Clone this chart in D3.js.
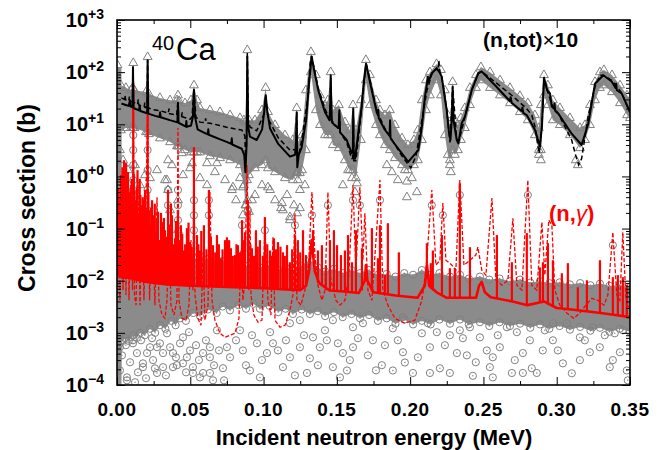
<!DOCTYPE html>
<html><head><meta charset="utf-8">
<script src="https://cdn.jsdelivr.net/npm/d3@7"></script>
<style>body{margin:0;background:#fff}svg{display:block;font-family:"Liberation Sans",Arial,Helvetica,sans-serif}</style>
</head><body>
<svg id="c" width="667" height="450"></svg>
<script>
// ---------- tick labels ----------
const xTicks = [0, 0.05, 0.10, 0.15, 0.20, 0.25, 0.30, 0.35];
const xTickLabels = ["0.00","0.05","0.10","0.15","0.20","0.25","0.30","0.35"];
const xMinor = [0.025, 0.075, 0.125, 0.175, 0.225, 0.275, 0.325];
const yTicks = [1e3, 1e2, 1e1, 1e0, 1e-1, 1e-2, 1e-3, 1e-4];
const yTickExp = ["+3","+2","+1","+0","\u22121","\u22122","\u22123","\u22124"];

// ---------- (n,tot)x10 : evaluations (black) ----------
const totSolid = [[0.0030,25],[0.0060,23.5],[0.0080,22.5],[0.0088,29],[0.0092,22],[0.0106,21],[0.0109,125],[0.0113,20.5],[0.0150,18.5],[0.0155,23],[0.0159,18],[0.0200,16.5],[0.0206,17],[0.0209,170],[0.0213,16],[0.0260,14.5],[0.0290,13.8],[0.0294,17],[0.0298,13.6],[0.0360,12],[0.0407,11],[0.0412,11],[0.0416,25],[0.0420,10.7],[0.0470,9],[0.0473,11.5],[0.0476,8.9],[0.0505,9.5],[0.0518,14],[0.0525,46],[0.0532,14],[0.0550,8],[0.0600,6.8],[0.0620,6.4],[0.0623,8],[0.0626,6.3],[0.0700,5.2],[0.0748,4.6],[0.0780,4.2],[0.0783,5.4],[0.0786,4.1],[0.0851,3.4],[0.0868,2.6],[0.0876,1.2],[0.0884,4],[0.0889,200],[0.0895,9],[0.0907,5.8],[0.0953,5.0],[0.0990,8],[0.1005,18],[0.1015,36],[0.1025,18],[0.1044,8.3],[0.1100,4.2],[0.1180,2.4],[0.1215,2.6],[0.1222,5],[0.1226,17],[0.1230,1.5],[0.1240,2.6],[0.1260,3.6],[0.1290,12],[0.1310,60],[0.1328,200],[0.1345,110],[0.1373,45],[0.1419,17],[0.1450,12],[0.1455,25],[0.1458,87],[0.1462,25],[0.1466,11],[0.1487,9.5],[0.1512,8.5],[0.1517,18.6],[0.1522,7],[0.1567,5],[0.1601,2.8],[0.1609,3.2],[0.1612,20],[0.1615,2.4],[0.1624,2.2],[0.1640,5],[0.1669,22],[0.1685,70],[0.1699,145],[0.1715,90],[0.1738,45],[0.1772,17],[0.1780,15],[0.1782,19],[0.1786,13],[0.1828,7.8],[0.1860,6],[0.1863,12],[0.1866,5.5],[0.1874,5],[0.1942,2.8],[0.1987,1.9],[0.2056,3.2],[0.2080,9],[0.2101,34],[0.2115,60],[0.2120,82],[0.2125,65],[0.2147,95],[0.2181,117],[0.2200,100],[0.2215,82],[0.2249,19],[0.2265,7],[0.2275,5],[0.2284,12],[0.2290,52],[0.2296,12],[0.2318,5],[0.2329,4.3],[0.2352,10.5],[0.2374,14],[0.2420,45],[0.2465,95],[0.2488,103],[0.2579,56],[0.2680,28],[0.2686,33],[0.2692,26],[0.2760,18],[0.2766,21],[0.2772,16.5],[0.2795,15],[0.2852,7.8],[0.2886,3.7],[0.2900,10],[0.2913,76],[0.2935,45],[0.2954,39],[0.2966,22],[0.2980,20],[0.2985,25],[0.2990,18],[0.3011,16],[0.3102,6.6],[0.3170,4.0],[0.3216,10.5],[0.3261,60],[0.3318,87],[0.3375,66],[0.3400,50],[0.3405,60],[0.3410,45],[0.3443,39],[0.3500,17]];

const totDashed = [[0.0030,32],[0.0050,30],[0.0055,36],[0.0058,29.5],[0.0080,28],[0.0085,34],[0.0088,27.5],[0.0106,27],[0.0109,130],[0.0112,26.5],[0.0140,24],[0.0145,30],[0.0148,23.5],[0.0185,21.5],[0.0190,26],[0.0193,21],[0.0205,21],[0.0209,170],[0.0213,20.5],[0.0250,19],[0.0300,18],[0.0350,16.5],[0.0355,20],[0.0358,16],[0.0407,15],[0.0416,28],[0.0420,14.5],[0.0440,14],[0.0445,17],[0.0448,13.8],[0.0500,12.5],[0.0512,14],[0.0525,46],[0.0538,14],[0.0566,11],[0.0600,10.8],[0.0605,13],[0.0608,10.7],[0.0635,10.5],[0.0700,9.5],[0.0748,8.8],[0.0800,8.2],[0.0851,7.8],[0.0872,6],[0.0878,2],[0.0884,5],[0.0889,240],[0.0895,12],[0.0907,8.9],[0.0953,7.5],[0.1000,15],[0.1015,36],[0.1030,13],[0.1100,5.5],[0.1180,3.2],[0.1220,3.3],[0.1226,17],[0.1232,2],[0.1260,5],[0.1300,30],[0.1318,150],[0.1328,200],[0.1345,120],[0.1373,50],[0.1419,20],[0.1452,12],[0.1458,80],[0.1464,12],[0.1487,10],[0.1512,8],[0.1517,17],[0.1522,7],[0.1567,4.5],[0.1601,2.2],[0.1608,2.2],[0.1612,18],[0.1616,2],[0.1630,2],[0.1669,20],[0.1699,150],[0.1738,50],[0.1772,18],[0.1828,8.3],[0.1874,5.2],[0.1942,2.5],[0.2005,1.45],[0.2040,2.5],[0.2080,12],[0.2115,45],[0.2150,95],[0.2181,120],[0.2190,110],[0.2196,170],[0.2202,100],[0.2215,85],[0.2249,20],[0.2272,4.5],[0.2290,55],[0.2318,5],[0.2335,5],[0.2374,14],[0.2420,45],[0.2465,95],[0.2488,103],[0.2579,65],[0.2693,36],[0.2795,20],[0.2830,15],[0.2852,9],[0.2880,2.75],[0.2900,10],[0.2913,80],[0.2935,45],[0.2966,24],[0.3011,16],[0.3102,5],[0.3130,2.5],[0.3150,1.66],[0.3170,2.2],[0.3216,15],[0.3261,52],[0.3295,87],[0.3318,87],[0.3375,70],[0.3443,40],[0.3500,17]];

// ---------- (n,tot)x10 : measurements (gray triangles) [E, low, high] dense band ----------
const totBand = [[0.0003,2.05,137],[0.0027,7.7,56],[0.0061,8.5,50],[0.0095,8.5,45],[0.0106,8.5,50],[0.0111,8.5,150],[0.0119,8.5,45],[0.0198,7.1,41.5],[0.0209,7.1,195],[0.0218,6.5,38],[0.0293,5.4,32],[0.0362,4.55,29],[0.0409,3.8,29],[0.0416,3.8,36],[0.0423,3.8,28],[0.0464,3.2,25.5],[0.0505,2.9,29],[0.0525,2.9,56],[0.0546,2.9,29],[0.0566,2.9,20.5],[0.0634,2.45,18.7],[0.0703,2.25,17.2],[0.0771,2.05,15],[0.0839,1.65,13.2],[0.0866,0.68,12],[0.0876,0.28,11],[0.0889,0.35,265],[0.0900,1.06,12],[0.0941,1.44,12],[0.0989,1.65,18.7],[0.1014,2.05,50],[0.1030,1.44,17.2],[0.1078,1.21,9.7],[0.1146,0.93,6.2],[0.1200,0.85,5.0],[0.1226,1.21,20.5],[0.1234,0.85,4.55],[0.1262,1.32,6.2],[0.1289,3.2,45],[0.1323,100,243],[0.1357,18.7,88],[0.1385,9.7,36],[0.1419,6.2,23.4],[0.1439,6.2,29],[0.1458,6.2,100],[0.1473,4.0,18.7],[0.1514,3.5,23.4],[0.1555,2.05,11],[0.1589,1.32,7.7],[0.1610,1.32,23.4],[0.1630,0.93,7.7],[0.1664,5.0,29],[0.1698,70,171],[0.1726,23.4,88],[0.1767,9.7,29],[0.1794,6.2,18.7],[0.1828,4.0,15],[0.1862,3.2,18.7],[0.1896,2.25,9.7],[0.1944,1.65,5.4],[0.1985,1.32,4.0],[0.2026,1.65,5.0],[0.2053,2.05,7.7],[0.2080,5.0,29],[0.2108,18.7,70],[0.2135,36,100],[0.2180,70,143],[0.2210,36,110],[0.2237,6.2,45],[0.2257,2.6,15],[0.2271,2.05,9.7],[0.2290,3.2,65],[0.2305,2.6,12],[0.2326,3.2,9.7],[0.2346,5.0,13.2],[0.2373,8.5,20.5],[0.2408,23.4,50],[0.2449,50,88],[0.2483,70,125],[0.2545,50,100],[0.2613,36,70],[0.2681,25.5,50],[0.2749,17.2,35],[0.2803,12,25.5],[0.2851,6.2,15],[0.2878,3.2,8.5],[0.2892,3.2,23.4],[0.2913,36,88],[0.2940,23.4,56],[0.2974,12,29],[0.3022,9.7,20.5],[0.3090,6.2,13.2],[0.3159,3.5,8.5],[0.3193,5.0,9.7],[0.3227,9.7,23.4],[0.3261,29,65],[0.3295,50,100],[0.3322,56,110],[0.3377,41.5,88],[0.3432,25.5,56],[0.3480,15,36],[0.3500,13.2,29]];

const totScatter = [[0.0225,0.93],[0.0273,1.32],[0.0327,0.85],[0.0375,1.65],[0.0450,1.06],[0.0498,1.44],[0.0566,0.93],[0.0614,0.68],[0.0668,1.21],[0.0737,0.85],[0.0784,0.55],[0.0812,0.35],[0.0839,0.93],[0.0880,0.28],[0.0900,0.21],[0.0921,0.35],[0.0859,0.18],[0.0941,0.44],[0.0989,0.68],[0.1044,0.55],[0.1078,0.35],[0.1119,0.247],[0.1160,0.44],[0.1180,0.145],[0.1207,0.28],[0.1228,0.197],[0.1248,0.55],[0.1282,0.68],[0.1248,1.16],[0.0416,0.35],[0.0362,0.225],[0.0020,3.2],[0.0041,2.05],[0.0075,1.32],[0.0123,1.65],[0.0157,0.68],[0.0191,1.06],[0.0416,0.093],[0.1541,0.68],[0.1576,1.32],[0.1603,0.93],[0.1637,0.74],[0.1623,0.50],[0.1841,1.65],[0.1876,1.21],[0.1916,0.85],[0.1964,1.32],[0.1978,0.80],[0.1978,0.40],[0.2046,0.50],[0.2012,0.93],[0.2271,1.65],[0.2278,1.21],[0.2878,2.6],[0.2892,2.05],[0.3130,2.05],[0.3144,1.65],[0.0348,2.05],[0.0341,0.85],[0.0348,0.55],[0.0443,2.8],[0.0512,1.8],[0.0614,1.8],[0.0682,1.8],[0.0791,0.62],[0.0859,0.62],[0.0887,0.85],[0.1030,0.62],[0.1132,0.225],[0.1125,0.31],[0.1180,0.166],[0.1248,0.247],[0.1228,1.16]];

// ---------- (n,gamma) : evaluations (red) ----------
const capSolid = [[0.0005,0.03],[0.0020,0.016],[0.0030,0.013],[0.0100,0.011],[0.0200,0.0095],[0.0340,0.0085],[0.0500,0.008],[0.0800,0.0075],[0.1000,0.0072],[0.1150,0.0068],[0.1250,0.0066],[0.1290,0.008],[0.1310,0.015],[0.1320,0.035],[0.1328,0.06],[0.1336,0.035],[0.1350,0.015],[0.1380,0.009],[0.1450,0.0065],[0.1550,0.0062],[0.1650,0.0058],[0.1690,0.01],[0.1699,0.02],[0.1708,0.01],[0.1750,0.006],[0.1900,0.0052],[0.2050,0.0047],[0.2100,0.008],[0.2115,0.02],[0.2130,0.008],[0.2181,0.006],[0.2250,0.0047],[0.2450,0.0047],[0.2470,0.008],[0.2488,0.0095],[0.2510,0.006],[0.2550,0.0048],[0.2700,0.004],[0.2800,0.0034],[0.2913,0.004],[0.3000,0.003],[0.3100,0.0028],[0.3200,0.0026],[0.3300,0.0024],[0.3400,0.0022],[0.3500,0.002]];

// narrow resonances of the solid red curve: [E, base, peak]
const capSpikes = [[0.0010,0.013,0.6],[0.0014,0.012,0.35],[0.0017,0.012,0.09],[0.0020,0.012,0.18],[0.0024,0.012,0.4],[0.0027,0.012,1.06],[0.0031,0.012,0.15],[0.0034,0.011,0.55],[0.0037,0.011,1.5],[0.0041,0.011,0.28],[0.0044,0.011,0.12],[0.0048,0.011,2.05],[0.0051,0.011,0.7],[0.0055,0.011,0.44],[0.0058,0.011,0.2],[0.0062,0.011,1.8],[0.0065,0.011,0.93],[0.0070,0.011,0.3],[0.0075,0.011,1.21],[0.0078,0.011,0.6],[0.0082,0.011,0.35],[0.0086,0.011,0.5],[0.0089,0.011,0.225],[0.0092,0.011,0.09],[0.0095,0.011,0.68],[0.0100,0.011,0.9],[0.0104,0.011,0.25],[0.0111,0.011,62],[0.0115,0.011,1.1],[0.0119,0.011,0.55],[0.0124,0.011,0.3],[0.0130,0.011,0.35],[0.0135,0.011,0.6],[0.0140,0.010,1.32],[0.0145,0.010,0.2],[0.0150,0.010,0.18],[0.0155,0.010,0.9],[0.0160,0.010,0.44],[0.0165,0.010,0.12],[0.0171,0.010,0.28],[0.0176,0.010,0.4],[0.0181,0.010,0.145],[0.0186,0.010,0.35],[0.0191,0.010,0.55],[0.0196,0.010,0.08],[0.0201,0.0095,0.25],[0.0209,0.0095,25.5],[0.0214,0.0095,0.5],[0.0218,0.0095,0.225],[0.0228,0.0093,0.116],[0.0233,0.0093,0.25],[0.0239,0.0093,0.35],[0.0245,0.0092,0.09],[0.0252,0.0092,0.18],[0.0258,0.0092,0.3],[0.0266,0.0091,0.085],[0.0272,0.0091,0.14],[0.0280,0.009,0.21],[0.0286,0.009,0.06],[0.0293,0.009,0.06],[0.0300,0.009,0.2],[0.0307,0.0089,0.133],[0.0314,0.0088,0.05],[0.0320,0.0088,0.16],[0.0327,0.0087,0.093],[0.0338,0.0086,0.07],[0.0348,0.0085,0.55],[0.0355,0.0085,0.12],[0.0362,0.0085,0.048],[0.0368,0.0085,0.3],[0.0375,0.0084,0.18],[0.0385,0.0084,0.05],[0.0396,0.0083,0.065],[0.0402,0.0083,0.14],[0.0416,0.0083,0.225],[0.0425,0.0082,0.06],[0.0436,0.0082,0.116],[0.0445,0.0082,0.08],[0.0457,0.0082,0.038],[0.0465,0.0081,0.05],[0.0477,0.0081,0.102],[0.0488,0.0081,0.13],[0.0498,0.008,0.055],[0.0510,0.008,0.045],[0.0525,0.008,3.65],[0.0546,0.008,0.075],[0.0555,0.008,0.05],[0.0566,0.008,0.038],[0.0575,0.008,0.09],[0.0593,0.0079,0.116],[0.0610,0.0079,0.04],[0.0627,0.0079,0.55],[0.0640,0.0078,0.07],[0.0655,0.0078,0.048],[0.0670,0.0078,0.035],[0.0682,0.0078,0.075],[0.0695,0.0077,0.05],[0.0709,0.0077,0.027],[0.0720,0.0077,0.04],[0.0737,0.0077,0.06],[0.0750,0.0077,0.068],[0.0765,0.0076,0.06],[0.0777,0.0076,0.042],[0.0790,0.0076,0.03],[0.0805,0.0075,0.031],[0.0815,0.0075,0.05],[0.0825,0.0075,0.048],[0.0840,0.0075,0.035],[0.0853,0.0075,0.145],[0.0860,0.0075,0.06],[0.0873,0.0075,0.085],[0.0893,0.0075,0.35],[0.0910,0.0074,0.05],[0.0921,0.0074,0.042],[0.0935,0.0074,0.03],[0.0948,0.0074,0.093],[0.0960,0.0073,0.045],[0.0975,0.0073,0.06],[0.0995,0.0072,0.03],[0.1009,0.0072,0.166],[0.1025,0.0072,0.05],[0.1044,0.0071,0.038],[0.1058,0.007,0.03],[0.1071,0.007,0.065],[0.1085,0.007,0.04],[0.1098,0.0069,0.055],[0.1115,0.0069,0.045],[0.1132,0.0068,0.035],[0.1145,0.0068,0.03],[0.1160,0.0068,0.048],[0.1180,0.0068,0.0226],[0.1195,0.0067,0.04],[0.1214,0.0067,0.075],[0.1234,0.0066,0.06],[0.1250,0.0066,0.035],[0.1269,0.0072,0.093],[0.1289,0.008,0.031],[0.1337,0.03,0.093],[0.1371,0.009,0.038],[0.1398,0.008,0.048],[0.1425,0.0067,0.0199],[0.1453,0.0065,0.06],[0.1480,0.0064,0.093],[0.1501,0.0064,0.048],[0.1528,0.0063,0.031],[0.1555,0.0062,0.038],[0.1576,0.0061,0.075],[0.1603,0.006,0.0226],[0.1630,0.0059,0.093],[0.1671,0.0065,0.042],[0.1698,0.018,0.0199],[0.1739,0.0062,0.102],[0.1780,0.0059,0.027],[0.1794,0.0058,0.116],[0.1828,0.0057,0.0128],[0.1848,0.0056,0.127],[0.1923,0.0052,0.035],[0.2114,0.018,0.0525],[0.2141,0.007,0.0217],[0.2155,0.0065,0.038],[0.2217,0.0055,0.075],[0.2271,0.0048,0.0174],[0.2305,0.0047,0.0174],[0.2339,0.0047,0.74],[0.2408,0.0047,0.044],[0.2592,0.0046,0.075],[0.2694,0.004,0.0226],[0.2796,0.0034,0.082],[0.2885,0.0038,0.018],[0.2906,0.0039,0.0226],[0.2940,0.0035,0.0525],[0.2974,0.0032,0.0247],[0.3035,0.003,0.0139],[0.3076,0.0029,0.0217],[0.3144,0.0027,0.0075],[0.3206,0.0026,0.0102],[0.3295,0.0024,0.0247],[0.3383,0.0023,0.0117],[0.3417,0.0022,0.0128],[0.3451,0.0022,0.0117],[0.3478,0.0021,0.0082]];

const capDashed = [[0.0007,0.038],[0.0020,0.0042],[0.0031,0.85],[0.0041,0.0066],[0.0051,1.65],[0.0061,0.0053],[0.0072,0.55],[0.0082,0.0042],[0.0095,0.28],[0.0106,0.0066],[0.0111,45],[0.0119,0.0053],[0.0130,0.0034],[0.0143,0.68],[0.0157,0.0034],[0.0171,0.225],[0.0184,0.0042],[0.0198,0.35],[0.0209,18.7],[0.0222,0.0042],[0.0239,0.145],[0.0259,0.0034],[0.0273,0.40],[0.0286,0.0042],[0.0307,0.0022],[0.0327,0.0019],[0.0341,0.0042],[0.0355,0.116],[0.0368,0.0034],[0.0389,0.0022],[0.0409,0.0042],[0.0416,8.5],[0.0423,0.0042],[0.0443,0.0019],[0.0471,0.00175],[0.0491,0.0034],[0.0505,0.06],[0.0518,0.0066],[0.0525,3.2],[0.0532,0.0053],[0.0552,0.0019],[0.0573,0.0014],[0.0587,0.035],[0.0600,0.00175],[0.0621,0.0034],[0.0634,0.50],[0.0648,0.0042],[0.0668,0.00175],[0.0703,0.00098],[0.0737,0.00082],[0.0771,0.0009],[0.0805,0.00098],[0.0832,0.0019],[0.0846,0.038],[0.0859,0.0042],[0.0873,0.0102],[0.0887,1.65],[0.0900,0.0066],[0.0907,0.225],[0.0914,0.0053],[0.0934,0.0022],[0.0962,0.0016],[0.0989,0.00175],[0.1009,0.116],[0.1030,0.0042],[0.1050,0.0022],[0.1064,0.068],[0.1078,0.00175],[0.1112,0.00128],[0.1146,0.0014],[0.1180,0.0027],[0.1200,0.0053],[0.1214,0.197],[0.1228,0.0042],[0.1255,0.0034],[0.1282,0.0066],[0.1309,0.0247],[0.1330,0.50],[0.1350,0.031],[0.1371,0.0082],[0.1398,0.0042],[0.1419,0.0066],[0.1439,0.50],[0.1459,0.0102],[0.1494,0.0042],[0.1521,0.0034],[0.1555,0.0042],[0.1582,0.0128],[0.1610,0.68],[0.1630,0.0159],[0.1657,0.62],[0.1678,0.0247],[0.1691,0.197],[0.1712,0.0066],[0.1739,0.0042],[0.1773,0.106],[0.1794,0.85],[0.1814,0.0066],[0.1848,0.0034],[0.1896,0.0019],[0.1964,0.00153],[0.2032,0.00175],[0.2080,0.0042],[0.2108,0.0159],[0.2148,0.55],[0.2176,0.0199],[0.2203,0.0247],[0.2223,0.31],[0.2244,0.0247],[0.2285,0.0199],[0.2312,0.0159],[0.2339,0.85],[0.2367,0.0199],[0.2408,0.0247],[0.2448,0.031],[0.2462,0.044],[0.2489,0.0159],[0.2517,0.0128],[0.2558,0.384],[0.2585,0.0102],[0.2626,0.0082],[0.2667,0.0102],[0.2701,0.158],[0.2728,0.0082],[0.2762,0.0066],[0.2803,0.85],[0.2830,0.0082],[0.2864,0.0066],[0.2899,0.133],[0.2919,0.0128],[0.2946,0.145],[0.2967,0.116],[0.2987,0.0066],[0.3021,0.0034],[0.3069,0.0024],[0.3117,0.0019],[0.3158,0.0024],[0.3199,0.0034],[0.3240,0.0046],[0.3281,0.0042],[0.3322,0.0034],[0.3349,0.0053],[0.3383,0.085],[0.3410,0.0053],[0.3431,0.0042],[0.3451,0.085],[0.3472,0.0046],[0.3500,0.0027]];

// ---------- (n,gamma) : measurements (gray circles) ----------
const capBand = [[0.0000,1e-4,120],[0.0030,1e-4,120],[0.0034,7.2e-4,0.06],[0.0040,7e-4,0.05],[0.0055,8e-4,0.045],[0.0080,7e-4,0.04],[0.0110,9e-4,0.045],[0.0135,8e-4,0.035],[0.0157,1.0e-3,0.04],[0.0190,9e-4,0.032],[0.0225,1.2e-3,0.036],[0.0260,1.0e-3,0.03],[0.0293,1.4e-3,0.035],[0.0330,1.2e-3,0.028],[0.0370,1.7e-3,0.032],[0.0400,1.4e-3,0.027],[0.0430,1.9e-3,0.031],[0.0470,1.7e-3,0.025],[0.0520,2.4e-3,0.028],[0.0566,2.1e-3,0.024],[0.0620,2.8e-3,0.026],[0.0680,2.4e-3,0.021],[0.0720,3.2e-3,0.024],[0.0771,2.7e-3,0.02],[0.0830,3.4e-3,0.022],[0.0880,2.9e-3,0.019],[0.0930,3.6e-3,0.021],[0.0975,2.9e-3,0.018],[0.1040,3.3e-3,0.02],[0.1100,2.5e-3,0.016],[0.1150,2.9e-3,0.018],[0.1200,2.3e-3,0.016],[0.1260,2.8e-3,0.019],[0.1316,2.3e-3,0.025],[0.1370,2.6e-3,0.018],[0.1420,2.1e-3,0.015],[0.1480,2.5e-3,0.017],[0.1540,2.0e-3,0.014],[0.1600,2.3e-3,0.016],[0.1658,1.9e-3,0.014],[0.1720,2.2e-3,0.016],[0.1780,1.7e-3,0.013],[0.1840,1.9e-3,0.0135],[0.1900,1.5e-3,0.012],[0.1960,1.8e-3,0.014],[0.2020,1.45e-3,0.013],[0.2080,1.7e-3,0.016],[0.2140,1.45e-3,0.013],[0.2200,1.8e-3,0.014],[0.2272,1.5e-3,0.012],[0.2340,1.8e-3,0.013],[0.2400,1.45e-3,0.011],[0.2476,1.6e-3,0.012],[0.2540,1.35e-3,0.0105],[0.2610,1.6e-3,0.011],[0.2681,1.35e-3,0.0098],[0.2750,1.5e-3,0.0105],[0.2820,1.25e-3,0.0092],[0.2886,1.45e-3,0.0098],[0.2950,1.2e-3,0.009],[0.3020,1.35e-3,0.0093],[0.3090,1.15e-3,0.0085],[0.3160,1.3e-3,0.009],[0.3230,1.1e-3,0.0082],[0.3295,1.25e-3,0.0088],[0.3360,1.05e-3,0.008],[0.3430,1.2e-3,0.0083],[0.3500,1.05e-3,0.0076]];

const capScatter = [[0.1951,4.25e-4],[0.1964,2.7e-4],[0.1882,1.9e-4],[0.2019,1.7e-4],[0.1807,2.4e-4],[0.2135,5.3e-4],[0.2080,9.8e-4],[0.2182,1.03e-3],[0.2271,9.0e-4],[0.2319,4.1e-4],[0.2387,3.7e-4],[0.2428,1.5e-4],[0.2523,4.6e-4],[0.2564,3.4e-4],[0.2544,2.2e-4],[0.2612,5.3e-4],[0.2660,1.28e-3],[0.2728,1.03e-3],[0.2769,4.1e-4],[0.2864,1.7e-4],[0.2905,4.6e-4],[0.2974,7.2e-4],[0.3042,2.6e-4],[0.3158,3.0e-4],[0.3226,4.25e-4],[0.3294,5.3e-4],[0.3383,3.0e-4],[0.3362,2.2e-4],[0.3478,1.9e-4],[0.3451,1.12e-3],[0.3396,9.8e-4],[0.3246,1.28e-3],[0.3069,1.53e-3],[0.2817,7.2e-4],[0.2476,8.2e-4],[0.2360,7.9e-4],[0.2121,1.53e-3],[0.1882,1.22e-3],[0.1951,2.0e-3],[0.2694,1.7e-4],[0.2271,1.7e-4],[0.2135,1.7e-4],[0.2564,1.4e-4],[0.2769,1.7e-4],[0.2830,2.1e-4],[0.3158,8.2e-4],[0.2408,1.28e-3],[0.2974,1.53e-3],[0.0109,7.2e-4],[0.0225,5.3e-4],[0.0314,4.1e-4],[0.0409,2.4e-4],[0.0477,3.4e-4],[0.0518,2.2e-4],[0.0587,4.1e-4],[0.0634,1.7e-4],[0.0723,2.1e-4],[0.0750,5.3e-4],[0.0859,4.6e-4],[0.0955,6.3e-4],[0.1023,4.1e-4],[0.1064,6.3e-4],[0.1132,2.2e-4],[0.1180,3.4e-4],[0.1248,5.3e-4],[0.1337,8.2e-4],[0.1384,5.3e-4],[0.1432,7.2e-4],[0.1473,2.2e-4],[0.1541,4.1e-4],[0.1569,1.9e-4],[0.1610,5.3e-4],[0.1678,1.53e-3],[0.1746,7.2e-4],[0.0907,1.9e-4],[0.0839,1.12e-3],[0.0682,1.12e-3],[0.0450,8.2e-4],[0.0341,9.8e-4],[0.0177,2.6e-4],[0.0068,1.4e-4],[0.0136,4.1e-4],[0.0020,5.3e-4],[0.0273,1.7e-4],[0.0566,1.4e-4],[0.0975,1.4e-4],[0.1296,1.7e-4],[0.1521,1.4e-4],[0.1180,1.53e-3],[0.1248,1.75e-3],[0.1473,1.75e-3],[0.1610,1.28e-3],[0.0020,1.9e-4],[0.0068,1.23e-4],[0.0123,1.13e-4],[0.0177,2.2e-4],[0.0246,3.0e-4],[0.0314,2.2e-4],[0.0382,2.2e-4],[0.0450,2.6e-4],[0.0205,4.1e-4],[0.0273,5.3e-4],[0.0109,6.3e-4],[0.0518,1.7e-4],[0.0587,1.7e-4],[0.0655,1.23e-4],[0.0382,4.1e-4],[0.0498,4.6e-4],[0.0634,3.4e-4],[0.0634,5.3e-4],
[0.0034,3.7e-4],[0.0061,5.8e-4],[0.0089,2.73e-4],[0.0143,1.75e-4],[0.0164,7.2e-4],[0.0198,1.35e-4],[0.0239,7.9e-4],[0.0259,2.09e-4],[0.0293,6.3e-4],[0.0334,1.53e-4],[0.0362,5.3e-4],[0.0402,3.4e-4],[0.0430,6.3e-4],[0.0471,1.75e-4],[0.0491,1.03e-3],[0.0539,5.8e-4],[0.0559,3.0e-4],[0.0607,7.2e-4],[0.0662,2.39e-4],[0.0696,4.6e-4],[0.0730,1.23e-4],[0.0771,3.4e-4],[0.0812,7.2e-4],[0.0880,2.39e-4],[0.0921,9.0e-4],[0.0989,3.0e-4],[0.1044,1.03e-3],[0.1098,4.6e-4],[0.1153,7.2e-4],[0.1214,1.53e-4],[0.1276,9.0e-4],[0.1316,3.25e-4],[0.1371,2.39e-4],[0.1419,1.12e-3],[0.1507,6.3e-4],[0.1589,3.0e-4],[0.1644,7.9e-4],[0.1712,3.7e-4],[0.1767,1.91e-4],[0.1828,5.8e-4],[0.1916,7.2e-4],[0.2053,3.4e-4],[0.2203,2.09e-4],[0.2237,5.8e-4],[0.2339,1.12e-3],[0.2448,2.73e-4],[0.2598,9.0e-4],[0.2714,3.0e-4],[0.2919,1.12e-3],[0.3008,4.6e-4],[0.3103,1.68e-4],[0.3192,7.2e-4],[0.3328,9.0e-4],[0.3431,4.25e-4],[0.3485,1.23e-4],
[0.0111,12],[0.0111,6.2],[0.0111,3.2],[0.0111,1.65],[0.0111,0.85],[0.0111,0.44],[0.0111,0.225],[0.0209,7.7],[0.0209,3.2],[0.0209,1.32],[0.0209,0.55],[0.0209,0.225],[0.0416,0.55],[0.0416,0.28],[0.0416,0.145],[0.0525,0.35],[0.0525,0.18],[0.0525,0.093],[0.0348,0.55],[0.0348,0.28],[0.0627,0.35],[0.0627,0.18],[0.0853,0.116],[0.0893,0.225],[0.1009,0.093],[0.1214,0.116],[0.1330,0.18],[0.1439,0.28],[0.1610,0.35],[0.1657,0.28],[0.1794,0.35],[0.2148,0.28],[0.2223,0.18],[0.2339,0.44],[0.2803,0.44],[0.3383,0.048]];

// ---------- drawing ----------
const L = 117, R = 630, T = 20, B = 385;
const x = d3.scaleLinear().domain([0, 0.35]).range([L, R]);
const y = d3.scaleLog().domain([1e-4, 1e3]).range([B, T]);
const svg = d3.select("#c");
svg.append("defs").append("clipPath").attr("id","clip")
  .append("rect").attr("x",L).attr("y",T).attr("width",R-L).attr("height",B-T);
const g = svg.append("g").attr("clip-path","url(#clip)");

const GRAY = "#808080", BANDFILL = "#8b8b8b";
const area = d3.area().x(d=>x(d[0])).y0(d=>y(d[1])).y1(d=>y(d[2]));
const line = d3.line().x(d=>x(d[0])).y(d=>y(d[1]));

function circles(parent, pts){
  const gg = parent.append("g");
  gg.selectAll("circle.o").data(pts).join("circle").attr("class","o")
    .attr("cx",d=>x(d[0])).attr("cy",d=>y(d[1])).attr("r",3.6)
    .attr("fill","none").attr("stroke",GRAY).attr("stroke-width",1);
  gg.selectAll("circle.d").data(pts).join("circle").attr("class","d")
    .attr("cx",d=>x(d[0])).attr("cy",d=>y(d[1])).attr("r",0.7).attr("fill",GRAY);
}
const tri = d3.symbol(d3.symbolTriangle, 34)();
function triangles(parent, pts){
  parent.append("g").selectAll("path").data(pts).join("path")
    .attr("d",tri).attr("transform",d=>`translate(${x(d[0])},${y(d[1])})`)
    .attr("fill","none").attr("stroke",GRAY).attr("stroke-width",1);
}

// capture measurements
g.append("path").datum(capBand).attr("d",area).attr("fill",BANDFILL);
circles(g, capBand.slice(2).flatMap(d=>[[d[0],d[1]],[d[0],d[2]]]));
circles(g, capScatter);

// total measurements
g.append("path").datum(totBand).attr("d",area).attr("fill",BANDFILL);
triangles(g, totBand.flatMap(d=>[[d[0],d[1]],[d[0],d[2]]]));
triangles(g, totScatter);

// capture evaluations (red)
g.append("path").datum(capDashed).attr("d",line).attr("fill","none")
  .attr("stroke","#ff0000").attr("stroke-width",1.3).attr("stroke-dasharray","4,2");
g.append("path").datum(capSolid).attr("d",line).attr("fill","none")
  .attr("stroke","#ff0000").attr("stroke-width",2.6).attr("stroke-linejoin","round");
g.append("g").selectAll("line").data(capSpikes).join("line")
  .attr("x1",d=>x(d[0])).attr("x2",d=>x(d[0]))
  .attr("y1",d=>y(d[1])).attr("y2",d=>y(d[2]))
  .attr("stroke","#ff0000").attr("stroke-width",2.2);

// total evaluations (black)
g.append("path").datum(totDashed).attr("d",line).attr("fill","none")
  .attr("stroke","#000").attr("stroke-width",1.5).attr("stroke-dasharray","5,3");
g.append("path").datum(totSolid).attr("d",line).attr("fill","none")
  .attr("stroke","#000").attr("stroke-width",2).attr("stroke-linejoin","round");

// axes (inward ticks on all four sides)
const yMinor = [];
[-4,-3,-2,-1,0,1,2].forEach(e=>{ for(let k=2;k<10;k++) yMinor.push(k*Math.pow(10,e)); });
function axis(gen, tr, vals, size){
  const a = svg.append("g").attr("transform",tr)
    .call(gen.tickValues(vals).tickSizeInner(size).tickSizeOuter(0).tickFormat(""));
  a.select(".domain").remove();
  a.selectAll("line").attr("stroke","#000").attr("stroke-width",1);
}
axis(d3.axisBottom(x), `translate(0,${B})`, xTicks, -8);
axis(d3.axisBottom(x), `translate(0,${B})`, xMinor, -4);
axis(d3.axisTop(x), `translate(0,${T})`, xTicks, -8);
axis(d3.axisTop(x), `translate(0,${T})`, xMinor, -4);
axis(d3.axisLeft(y), `translate(${L},0)`, yTicks, -8);
axis(d3.axisLeft(y), `translate(${L},0)`, yMinor, -4);
axis(d3.axisRight(y), `translate(${R},0)`, yTicks, -8);
axis(d3.axisRight(y), `translate(${R},0)`, yMinor, -4);

svg.append("rect").attr("x",L).attr("y",T).attr("width",R-L).attr("height",B-T)
  .attr("fill","none").attr("stroke","#000").attr("stroke-width",1.6);

// tick labels
svg.append("g").selectAll("text").data(xTicks).join("text")
  .attr("x",d=>x(d)).attr("y",416).attr("text-anchor","middle")
  .attr("font-size",19).attr("font-weight","bold").attr("letter-spacing","0.5")
  .text((d,i)=>xTickLabels[i]);
const yl = svg.append("g").selectAll("text").data(yTicks).join("text")
  .attr("x",104).attr("y",d=>y(d)+7).attr("text-anchor","end").attr("font-weight","bold");
yl.append("tspan").attr("font-size",20).text("10");
yl.append("tspan").attr("font-size",14).attr("dy",-8).text((d,i)=>yTickExp[i]);

// axis titles
svg.append("text").attr("x",374).attr("y",445).attr("text-anchor","middle")
  .attr("font-size",22).attr("font-weight","bold").text("Incident neutron energy (MeV)");
svg.append("text").attr("transform","translate(35,198) rotate(-90)").attr("text-anchor","middle")
  .attr("font-size",23).attr("font-weight","bold").text("Cross section (b)");

// annotations
svg.append("text").attr("x",152).attr("y",50).attr("font-size",20).text("40");
svg.append("text").attr("x",176).attr("y",60).attr("font-size",31).text("Ca");
const nt = svg.append("text").attr("x",483).attr("y",47).attr("font-size",21).attr("font-weight","bold");
nt.append("tspan").text("(n,tot)");
nt.append("tspan").attr("font-weight","normal").text("\u00d7");
nt.append("tspan").text("10");
const ng = svg.append("text").attr("x",549).attr("y",221).attr("font-size",22).attr("font-weight","bold").attr("fill","#ff0000");
ng.append("tspan").text("(n,");
ng.append("tspan").attr("font-style","italic").attr("font-weight","normal").text("\u03b3");
ng.append("tspan").text(")");
</script>
</body></html>
